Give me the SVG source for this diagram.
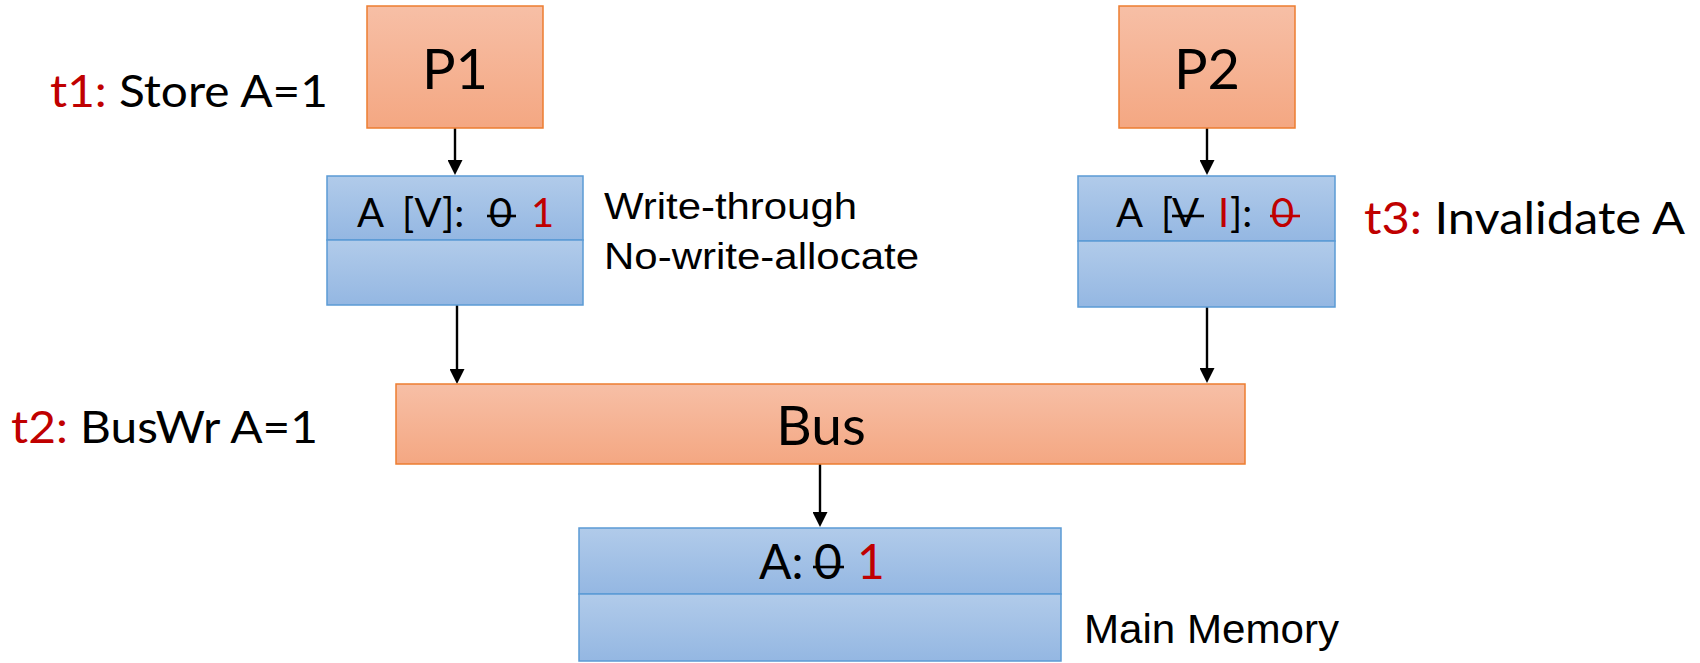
<svg xmlns="http://www.w3.org/2000/svg" width="1700" height="663" viewBox="0 0 1700 663">
  <style>
    .calib { font-family: Lato, "Open Sans", "Noto Sans", sans-serif; fill: #000; }
    .arial { font-family: "Liberation Sans", Arial, sans-serif; fill: #000; }
    .red { fill: #C00000; }
    .orange { fill: url(#gOrange); stroke: #ED7D31; stroke-width: 1.5; }
    .blue { fill: url(#gBlue); stroke: #5B9BD5; stroke-width: 1.5; }
    .strike { stroke-width: 2.6; }
    .wire { stroke: #000; stroke-width: 2.4; fill: none; marker-end: url(#head); }
  </style>
  <defs>
    <linearGradient id="gOrange" x1="0" y1="0" x2="0" y2="1">
      <stop offset="0" stop-color="#F7BFA6"/>
      <stop offset="1" stop-color="#F4A782"/>
    </linearGradient>
    <linearGradient id="gBlue" x1="0" y1="0" x2="0" y2="1">
      <stop offset="0" stop-color="#B1CBEA"/>
      <stop offset="1" stop-color="#94B7E2"/>
    </linearGradient>
    <marker id="head" markerUnits="userSpaceOnUse" markerWidth="15" markerHeight="15" viewBox="0 0 15 15" refX="1" refY="7.5" orient="auto">
      <path d="M0,0 L15,7.5 L0,15 z" fill="#000"/>
    </marker>
  </defs>

  <!-- connectors -->
  <g id="connectors">
    <line class="wire" x1="455" y1="128" x2="455" y2="161"/>
    <line class="wire" x1="457" y1="305" x2="457" y2="370"/>
    <line class="wire" x1="1207" y1="128" x2="1207" y2="161"/>
    <line class="wire" x1="1207" y1="307" x2="1207" y2="369"/>
    <line class="wire" x1="820" y1="464" x2="820" y2="513"/>
  </g>

  <!-- processor 1 -->
  <g id="p1">
    <rect class="orange" x="367" y="6" width="176" height="122"/>
    <text class="calib" x="455" y="89" font-size="56" text-anchor="middle">P1</text>
  </g>
  <text id="t1-label" class="calib" x="50" y="107" font-size="45" textLength="278" lengthAdjust="spacingAndGlyphs"><tspan class="red">t1:</tspan> Store A=1</text>

  <!-- processor 2 -->
  <g id="p2">
    <rect class="orange" x="1119" y="6" width="176" height="122"/>
    <text class="calib" x="1207" y="89" font-size="56" text-anchor="middle">P2</text>
  </g>

  <!-- cache of P1 -->
  <g id="cache1">
    <rect class="blue" x="327" y="176" width="256" height="64"/>
    <rect class="blue" x="327" y="240" width="256" height="65"/>
    <text class="calib" x="357" y="227" font-size="40">A <tspan x="402">[V]:</tspan><tspan x="489">0</tspan><tspan x="531" class="red">1</tspan></text>
    <line class="strike" stroke="#000" x1="487" y1="216" x2="516" y2="216"/>
  </g>
  <g id="policy">
    <text class="arial" x="604" y="219" font-size="36" textLength="253" lengthAdjust="spacingAndGlyphs">Write-through</text>
    <text class="arial" x="604" y="269" font-size="36" textLength="315" lengthAdjust="spacingAndGlyphs">No-write-allocate</text>
  </g>

  <!-- cache of P2 -->
  <g id="cache2">
    <rect class="blue" x="1078" y="176" width="257" height="65"/>
    <rect class="blue" x="1078" y="241" width="257" height="66"/>
    <text class="calib" x="1116" y="227" font-size="40">A <tspan x="1161">[</tspan><tspan x="1172">V</tspan><tspan x="1218" class="red">I</tspan><tspan x="1230">]:</tspan><tspan x="1271" class="red">0</tspan></text>
    <line class="strike" stroke="#000" x1="1172" y1="216" x2="1204" y2="216"/>
    <line class="strike" stroke="#C00000" x1="1270" y1="216" x2="1300" y2="216"/>
  </g>
  <text id="t3-label" class="calib" x="1364" y="234" font-size="44" textLength="321" lengthAdjust="spacingAndGlyphs"><tspan class="red">t3:</tspan> Invalidate A</text>

  <!-- shared bus -->
  <g id="bus">
    <rect class="orange" x="396" y="384" width="849" height="80"/>
    <text class="calib" x="821" y="445" font-size="55" text-anchor="middle">Bus</text>
  </g>
  <text id="t2-label" class="calib" x="11" y="443" font-size="45" textLength="307" lengthAdjust="spacingAndGlyphs"><tspan class="red">t2:</tspan> BusWr A=1</text>

  <!-- main memory -->
  <g id="memory">
    <rect class="blue" x="579" y="528" width="482" height="66"/>
    <rect class="blue" x="579" y="594" width="482" height="67"/>
    <text class="calib" x="759" y="579" font-size="48">A: <tspan x="814">0</tspan><tspan x="857" class="red">1</tspan></text>
    <line class="strike" stroke="#000" x1="813" y1="567" x2="844" y2="567"/>
    <text class="arial" x="1084" y="643" font-size="41" textLength="255" lengthAdjust="spacingAndGlyphs">Main Memory</text>
  </g>
</svg>
